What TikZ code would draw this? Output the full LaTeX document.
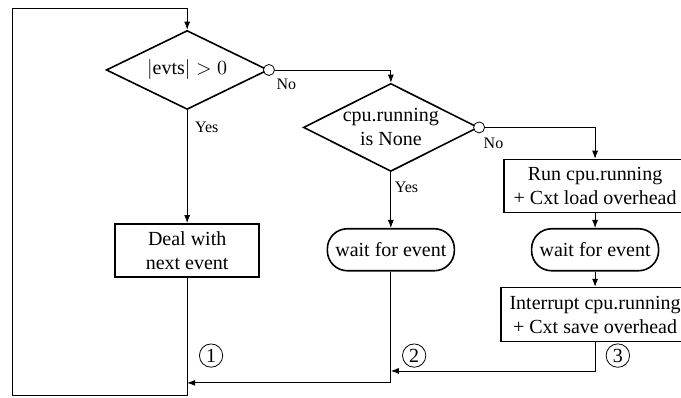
\documentclass[tikz,border=0pt]{standalone}
\usepackage{fontspec}
\setmainfont{Liberation Serif}
\usetikzlibrary{shapes.geometric,arrows.meta,positioning}

\begin{document}
\begin{tikzpicture}[>={Latex[length=4pt,width=3pt]},
    cond/.style={diamond,aspect=2,draw,thick,inner sep=0pt,align=center},
    act/.style={rectangle,draw,thick,align=center,inner sep=1pt,minimum height=26.5pt},
    waitbox/.style={rectangle,rounded corners=10pt,draw,thick,minimum width=63.5pt,minimum height=21pt,inner sep=1pt},
    nodot/.style={circle,draw,fill=white,inner sep=0pt,minimum size=5.5pt},
    lbl/.style={font=\footnotesize,inner sep=1pt},
    numc/.style={circle,draw,inner sep=1.2pt}]
                \useasboundingbox (0,0) rectangle (11.97,6.99);
                \coordinate (loopbl) at (0.21,0.04);
                \coordinate (looptl) at (0.21,6.85);
                \coordinate (join1) at (3.29,0.26);
                \coordinate (join2) at (6.87,0.47);
                % decisions
                \node [cond,minimum width=81pt,minimum height=39.5pt] (evts) at (3.29,5.76) {$|\mathrm{evts}| > 0$};
                \node [cond,minimum width=87.5pt,minimum height=44pt] (idle) at (6.87,4.75) {cpu.running\\is None};
                \node [nodot] (no1) at (evts.east) {};
                \node [nodot] (no2) at (idle.east) {};
                % actions
                \node [act,minimum width=72pt] (deal) at (3.29,2.59) {Deal with\\next event};
                \node [waitbox] (wait1) at (6.87,2.60) {wait for event};
                \node [act,minimum width=91pt] (run) at (10.46,3.72) {Run cpu.running\\+ Cxt load overhead};
                \node [waitbox] (wait2) at (10.46,2.60) {wait for event};
                \node [act,minimum width=94pt,minimum height=27pt] (intr) at (10.46,1.46) {Interrupt cpu.running\\+ Cxt save overhead};
                % arrows
                \draw [->] (deal.south) |- (loopbl) -- (looptl) -| (evts.north);
                \draw [->] (evts.south) -- (deal.north);
                \draw [->] (no1.east) -| (idle.north);
                \draw [->] (idle.south) -- (wait1.north);
                \draw [->] (no2.east) -| (run.north);
                \draw [->] (run.south) -- (wait2.north);
                \draw [->] (wait2.south) -- (intr.north);
                \draw [->] (wait1.south) |- (join1);
                \draw [->] (intr.south) |- (join2);
                % labels
                \node [lbl,below right=4.75pt and 2.8pt of evts.south] {Yes};
                \node [lbl,below right=3.75pt and 0.8pt of idle.south] {Yes};
                \node [lbl,below right=3.35pt and 2.6pt of no1.center] {No};
                \node [lbl,below right=3.85pt and 1.1pt of no2.center] {No};
                \node [numc] (n1) at (3.71,0.74) {1};
                \node [numc] (n2) at (7.28,0.74) {2};
                \node [numc] (n3) at (10.86,0.74) {3};
            \end{tikzpicture}
\end{document}
